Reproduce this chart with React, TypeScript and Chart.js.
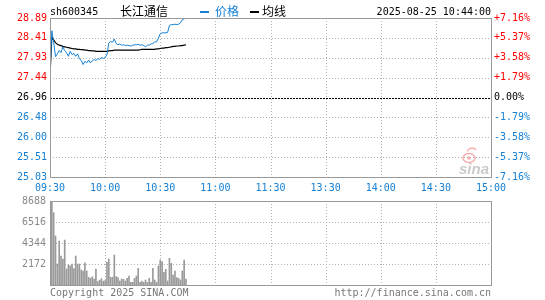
import React, { useEffect, useRef } from 'react';
import { Chart, registerables } from 'chart.js';
Chart.register(...registerables);

const stockCode = 'sh600345';
const stockName = '长江通信';
const legendPrice = '价格';
const legendAvg = '均线';
const dateTime = '2025-08-25 10:44:00';
const copyrightText = 'Copyright 2025 SINA.COM';
const urlText = 'http://finance.sina.com.cn';

const timeLabels = ['09:30', '10:00', '10:30', '11:00', '11:30', '13:30', '14:00', '14:30', '15:00'];
const timeTickMinutes = [0, 30, 60, 90, 120, 150, 180, 210, 240];
const preClose = 26.96;
const priceTicks = [28.89, 28.41, 27.93, 27.44, 26.96, 26.48, 26.0, 25.51, 25.03];
const pctTicks = [7.16, 5.37, 3.58, 1.79, 0, -1.79, -3.58, -5.37, -7.16];
const volumeTicks = [8688, 6516, 4344, 2172, 0];

const prices = [
  27.5, 28.58, 28.3, 27.95, 28.02, 28.1, 28.05, 28.19, 28.1, 28.05,
  27.96, 28.08, 28.0, 28.03, 27.96, 28.02, 27.9, 27.86, 27.76, 27.84,
  27.8, 27.87, 27.8, 27.85, 27.88, 27.86, 27.9, 27.89, 27.93, 27.91,
  27.93, 28.0, 28.28, 28.32, 28.3, 28.38, 28.27, 28.24, 28.26, 28.23,
  28.24, 28.22, 28.23, 28.22, 28.21, 28.23, 28.24, 28.24, 28.25, 28.23,
  28.24, 28.22, 28.19, 28.23, 28.23, 28.26, 28.27, 28.31, 28.31, 28.4,
  28.51, 28.53, 28.53, 28.53, 28.54, 28.71, 28.73, 28.73, 28.74, 28.73,
  28.74, 28.77, 28.85, 28.87, 28.89,
];

const avgPrices = [
  27.5, 28.42, 28.36, 28.29, 28.25, 28.23, 28.22, 28.2, 28.19, 28.18,
  28.17, 28.16, 28.15, 28.14, 28.14, 28.13, 28.13, 28.12, 28.12, 28.11,
  28.11, 28.1, 28.1, 28.09, 28.09, 28.08, 28.08, 28.08, 28.08, 28.08,
  28.08, 28.08, 28.09, 28.1, 28.1, 28.11, 28.11, 28.11, 28.11, 28.11,
  28.11, 28.11, 28.11, 28.11, 28.11, 28.11, 28.11, 28.11, 28.11, 28.12,
  28.13, 28.13, 28.13, 28.13, 28.13, 28.13, 28.13, 28.13, 28.14, 28.14,
  28.15, 28.16, 28.16, 28.17, 28.17, 28.18, 28.19, 28.2, 28.2, 28.21,
  28.21, 28.22, 28.22, 28.23, 28.24,
];

const volumes = [
  1550, 8688, 7480, 5070, 2170, 4550, 3000, 2690, 4650, 1650,
  2070, 2000, 2170, 1690, 3000, 2170, 2170, 1550, 1450, 2300,
  1450, 800, 700, 850, 600, 1650, 350, 500, 650, 400,
  450, 2340, 2690, 800, 800, 3100, 860, 760, 410, 620,
  590, 410, 690, 930, 280, 280, 690, 930, 1720, 280,
  410, 280, 520, 280, 690, 280, 1720, 520, 280, 1960,
  2590, 2410, 1310, 1620, 410, 2760, 2240, 1030, 1450, 760,
  690, 520, 1450, 2590, 620,
];

const MONO = '"DejaVu Sans Mono", "Liberation Mono", monospace';
const CJK = '"Noto Sans CJK SC", sans-serif';
const BLUE = '#1580d4';
const RED = '#ff0000';
const GRID = '#b0b0b0';
const FRAME = '#999999';

const crisp = (v: number) => Math.round(v) + 0.5;

function hLine(ctx: CanvasRenderingContext2D, x1: number, x2: number, y: number) {
  ctx.beginPath();
  ctx.moveTo(x1, crisp(y));
  ctx.lineTo(x2, crisp(y));
  ctx.stroke();
}
function vLine(ctx: CanvasRenderingContext2D, x: number, y1: number, y2: number) {
  ctx.beginPath();
  ctx.moveTo(crisp(x), y1);
  ctx.lineTo(crisp(x), y2);
  ctx.stroke();
}

function drawFrame(ctx: CanvasRenderingContext2D, a: any) {
  ctx.save();
  ctx.strokeStyle = FRAME;
  ctx.lineWidth = 1;
  ctx.setLineDash([]);
  const l = crisp(a.left), r = crisp(a.right), t = crisp(a.top), b = crisp(a.bottom);
  ctx.strokeRect(l, t, r - l, b - t);
  ctx.restore();
}

const pricePlugin = {
  id: 'priceDecor',
  beforeDatasetsDraw(chart: any) {
    const { ctx, chartArea: a, scales } = chart;
    const x = scales.x, y = scales.y;
    ctx.save();
    ctx.lineWidth = 1;
    ctx.strokeStyle = GRID;
    ctx.setLineDash([1, 2]);
    timeTickMinutes.slice(1, -1).forEach((m) => vLine(ctx, x.getPixelForValue(m), a.top, a.bottom));
    priceTicks.slice(1, -1).forEach((v) => {
      if (v !== preClose) hLine(ctx, a.left, a.right, y.getPixelForValue(v));
    });
    ctx.strokeStyle = '#000';
    ctx.setLineDash([2, 1]);
    hLine(ctx, a.left, a.right, y.getPixelForValue(preClose));
    ctx.restore();

    // watermark
    ctx.save();
    ctx.globalAlpha = 0.55;
    ctx.strokeStyle = '#f07070';
    ctx.lineWidth = 1.5;
    ctx.beginPath();
    ctx.ellipse(a.right - 22, a.bottom - 19, 6, 4.5, 0, 0, Math.PI * 2);
    ctx.stroke();
    ctx.beginPath();
    ctx.arc(a.right - 22, a.bottom - 19, 1.8, 0, Math.PI * 2);
    ctx.fillStyle = '#f07070';
    ctx.fill();
    ctx.beginPath();
    ctx.arc(a.right - 19, a.bottom - 24, 5, -Math.PI * 0.9, -Math.PI * 0.2);
    ctx.stroke();
    ctx.globalAlpha = 0.75;
    ctx.fillStyle = '#b8b8b8';
    ctx.font = 'italic bold 15px "Liberation Sans", sans-serif';
    ctx.textAlign = 'right';
    ctx.textBaseline = 'alphabetic';
    ctx.fillText('sina', a.right - 2, a.bottom - 3);
    ctx.restore();
  },
  afterDatasetsDraw(chart: any) {
    drawFrame(chart.ctx, chart.chartArea);
  },
  afterDraw(chart: any) {
    const { ctx, chartArea: a } = chart;
    ctx.save();
    ctx.textBaseline = 'alphabetic';
    ctx.textAlign = 'left';
    ctx.fillStyle = '#000';
    ctx.font = `10px ${MONO}`;
    ctx.fillText(stockCode, a.left, 15);
    ctx.font = `12px ${CJK}`;
    ctx.fillText(stockName, 120, 16);
    ctx.fillStyle = BLUE;
    ctx.fillRect(200, 11, 9, 2);
    ctx.fillText(legendPrice, 215, 16);
    ctx.fillStyle = '#000';
    ctx.fillRect(250, 11, 9, 2);
    ctx.fillText(legendAvg, 262, 16);
    ctx.font = `10px ${MONO}`;
    ctx.textAlign = 'right';
    ctx.fillText(dateTime, a.right, 15);
    ctx.restore();
  },
};

const volumePlugin = {
  id: 'volumeDecor',
  beforeDatasetsDraw(chart: any) {
    const { ctx, chartArea: a, scales } = chart;
    const x = scales.x, y = scales.y;
    ctx.save();
    ctx.lineWidth = 1;
    ctx.strokeStyle = GRID;
    ctx.setLineDash([1, 2]);
    timeTickMinutes.slice(1, -1).forEach((m) => vLine(ctx, x.getPixelForValue(m), a.top, a.bottom));
    volumeTicks.slice(1, -1).forEach((v) => hLine(ctx, a.left, a.right, y.getPixelForValue(v)));
    ctx.restore();
  },
  afterDatasetsDraw(chart: any) {
    drawFrame(chart.ctx, chart.chartArea);
  },
  afterDraw(chart: any) {
    const { ctx, chartArea: a } = chart;
    ctx.save();
    ctx.font = `10px ${MONO}`;
    ctx.fillStyle = '#777';
    ctx.textBaseline = 'alphabetic';
    ctx.textAlign = 'left';
    ctx.fillText(copyrightText, a.left, a.bottom + 11);
    ctx.textAlign = 'right';
    ctx.fillText(urlText, a.right, a.bottom + 11);
    ctx.restore();
  },
};

const tickFont = { family: MONO, size: 10 };

export default function App() {
  const priceRef = useRef<HTMLCanvasElement | null>(null);
  const volRef = useRef<HTMLCanvasElement | null>(null);

  useEffect(() => {
    if (!priceRef.current || !volRef.current) return;
    const priceChart = new Chart(priceRef.current, {
      type: 'line',
      data: {
        datasets: [
          {
            label: legendPrice,
            data: prices.map((v, i) => ({ x: i, y: v })),
            borderColor: BLUE,
            borderWidth: 1,
            pointRadius: 0,
            tension: 0,
            fill: false,
          },
          {
            label: legendAvg,
            data: avgPrices.map((v, i) => ({ x: i, y: v })),
            borderColor: '#000',
            borderWidth: 1.2,
            pointRadius: 0,
            tension: 0,
            fill: false,
          },
        ],
      },
      options: {
        animation: false,
        responsive: false,
        events: [],
        layout: { padding: { top: 18, left: 0, right: 0, bottom: 0 } },
        plugins: { legend: { display: false }, tooltip: { enabled: false }, title: { display: false } },
        scales: {
          x: {
            type: 'linear',
            min: 0,
            max: 240,
            afterBuildTicks: (s: any) => {
              s.ticks = timeTickMinutes.map((v) => ({ value: v }));
            },
            afterFit: (s: any) => {
              s.height = 23;
            },
            ticks: {
              autoSkip: false,
              maxRotation: 0,
              padding: 5,
              color: BLUE,
              font: tickFont,
              callback: (v: any) => timeLabels[timeTickMinutes.indexOf(Number(v))] ?? '',
            },
            grid: { display: false, drawTicks: false },
            border: { display: false },
          },
          y: {
            position: 'left',
            min: priceTicks[priceTicks.length - 1],
            max: priceTicks[0],
            afterBuildTicks: (s: any) => {
              s.ticks = priceTicks.map((v) => ({ value: v }));
            },
            afterFit: (s: any) => {
              s.width = 50;
            },
            ticks: {
              padding: 3,
              font: tickFont,
              color: (c: any) => {
                const v = c.tick ? c.tick.value : 0;
                return Math.abs(v - preClose) < 1e-6 ? '#000' : v > preClose ? RED : BLUE;
              },
              callback: (v: any) => Number(v).toFixed(2),
            },
            grid: { display: false, drawTicks: false },
            border: { display: false },
          },
          y1: {
            position: 'right',
            min: pctTicks[pctTicks.length - 1],
            max: pctTicks[0],
            afterBuildTicks: (s: any) => {
              s.ticks = pctTicks.map((v) => ({ value: v }));
            },
            afterFit: (s: any) => {
              s.width = 54;
            },
            ticks: {
              padding: 3,
              font: tickFont,
              color: (c: any) => {
                const v = c.tick ? c.tick.value : 0;
                return Math.abs(v) < 1e-6 ? '#000' : v > 0 ? RED : BLUE;
              },
              callback: (v: any) => {
                const n = Number(v);
                return (n > 0 ? '+' : '') + n.toFixed(2) + '%';
              },
            },
            grid: { display: false, drawTicks: false },
            border: { display: false },
          },
        },
      } as any,
      plugins: [pricePlugin],
    });

    const volChart = new Chart(volRef.current, {
      type: 'bar',
      data: {
        datasets: [
          {
            data: volumes.map((v, i) => ({ x: i, y: v })),
            backgroundColor: '#999999',
            borderWidth: 0,
            barThickness: 1,
            grouped: false,
          } as any,
        ],
      },
      options: {
        animation: false,
        responsive: false,
        events: [],
        layout: { padding: { top: 11, left: 0, right: 54, bottom: 15 } },
        plugins: { legend: { display: false }, tooltip: { enabled: false } },
        scales: {
          x: { type: 'linear', min: 0, max: 240, display: false, offset: false },
          y: {
            min: 0,
            max: volumeTicks[0],
            afterBuildTicks: (s: any) => {
              s.ticks = volumeTicks.map((v) => ({ value: v }));
            },
            afterFit: (s: any) => {
              s.width = 50;
            },
            ticks: {
              padding: 4,
              font: tickFont,
              color: '#888',
              callback: (v: any) => (Number(v) === 0 ? '' : String(v)),
            },
            grid: { display: false, drawTicks: false },
            border: { display: false },
          },
        },
      } as any,
      plugins: [volumePlugin],
    });

    return () => {
      priceChart.destroy();
      volChart.destroy();
    };
  }, []);

  return (
    <div style={{ position: 'absolute', left: 0, top: 0, width: 545, height: 300, background: '#fff' }}>
      <canvas
        ref={priceRef}
        width={545}
        height={200}
        style={{ position: 'absolute', left: 0, top: 0, width: 545, height: 200 }}
      />
      <canvas
        ref={volRef}
        width={545}
        height={110}
        style={{ position: 'absolute', left: 0, top: 190, width: 545, height: 110 }}
      />
    </div>
  );
}
